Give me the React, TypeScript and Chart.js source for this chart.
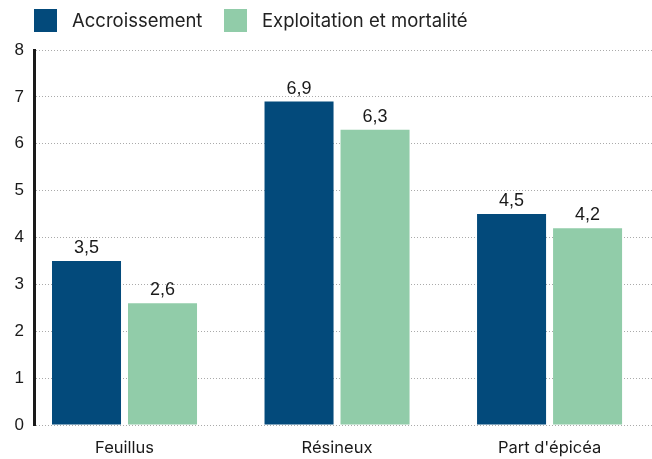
import React, { useEffect, useRef } from "react";
import { Chart, registerables } from "chart.js";

Chart.register(...registerables);

const categories = ["Feuillus", "Résineux", "Part d'épicéa"];
const seriesNames = ["Accroissement", "Exploitation et mortalité"];
const accroissement = [3.5, 6.9, 4.5];
const exploitation = [2.6, 6.3, 4.2];
const yTicks = [0, 1, 2, 3, 4, 5, 6, 7, 8];
const colors = ["#034a7b", "#91cca9"];

const legendFont = "18.5px Inter, 'Noto Sans', sans-serif";
const valueFont = "18px 'Liberation Sans', Arial, sans-serif";

const fmt = (v: number) => v.toFixed(1).replace(".", ",");

const valueLabels = {
  id: "valueLabels",
  afterDatasetsDraw(chart: any) {
    const ctx = chart.ctx;
    ctx.save();
    ctx.font = valueFont;
    ctx.fillStyle = "#1a1a1a";
    ctx.textAlign = "center";
    ctx.textBaseline = "alphabetic";
    chart.data.datasets.forEach((ds: any, i: number) => {
      const meta = chart.getDatasetMeta(i);
      meta.data.forEach((el: any, j: number) => {
        ctx.fillText(fmt(ds.data[j].y), el.x, el.y - 8);
      });
    });
    ctx.restore();
  },
};

const customLegend = {
  id: "customLegend",
  afterDraw(chart: any) {
    const ctx = chart.ctx;
    ctx.save();
    ctx.font = legendFont;
    ctx.textBaseline = "middle";
    ctx.textAlign = "left";
    const positions = [34, 224];
    seriesNames.forEach((name, i) => {
      const x = positions[i];
      ctx.fillStyle = colors[i];
      ctx.fillRect(x, 9, 23, 23);
      ctx.fillStyle = "#222";
      ctx.fillText(name, x + 38, 21);
    });
    ctx.restore();
  },
};

const toPoints = (arr: number[]) => arr.map((v, i) => ({ x: i, y: v }));

export default function App() {
  const ref = useRef<HTMLCanvasElement>(null);
  useEffect(() => {
    if (!ref.current) return;
    const chart = new Chart(ref.current, {
      type: "bar",
      data: {
        datasets: [
          { label: seriesNames[0], data: toPoints(accroissement), backgroundColor: colors[0] },
          { label: seriesNames[1], data: toPoints(exploitation), backgroundColor: colors[1] },
        ],
      },
      options: {
        animation: false,
        responsive: false,
        maintainAspectRatio: false,
        layout: { padding: { top: 50, right: 0, left: 0, bottom: 0 } },
        datasets: { bar: { categoryPercentage: 0.7153, barPercentage: 0.908 } },
        plugins: { legend: { display: false }, tooltip: { enabled: false } },
        scales: {
          x: {
            type: "linear",
            min: -0.4259,
            max: 2.482,
            offset: false,
            afterBuildTicks: (s: any) => {
              s.ticks = categories.map((_, i) => ({ value: i }));
            },
            grid: { display: false },
            border: { display: false },
            ticks: {
              color: "#1a1a1a",
              padding: 5,
              autoSkip: false,
              maxRotation: 0,
              callback: (v: any) => categories[Math.round(Number(v))] ?? "",
              font: { family: "Inter, 'Noto Sans', sans-serif", size: 16.5 },
            },
            afterFit: (s: any) => {
              s.height = 34;
            },
          },
          y: {
            min: 0,
            max: 8,
            afterBuildTicks: (s: any) => {
              s.ticks = yTicks.map((v) => ({ value: v }));
            },
            grid: {
              color: "#aaaaaa",
              lineWidth: 1,
              drawTicks: false,
            },
            border: { display: true, color: "#1a1a1a", width: 3, dash: [1, 2] },
            ticks: {
              color: "#1a1a1a",
              padding: 10,
              font: { family: "'Liberation Sans', Arial, sans-serif", size: 17 },
            },
            afterFit: (s: any) => {
              s.width = 34;
            },
          },
        },
      },
      plugins: [valueLabels, customLegend],
    } as any);
    return () => chart.destroy();
  }, []);
  return (
    <div style={{ position: "fixed", left: 0, top: 0, width: 652, height: 459, background: "#fff" }}>
      <canvas ref={ref} width={652} height={459} />
    </div>
  );
}
